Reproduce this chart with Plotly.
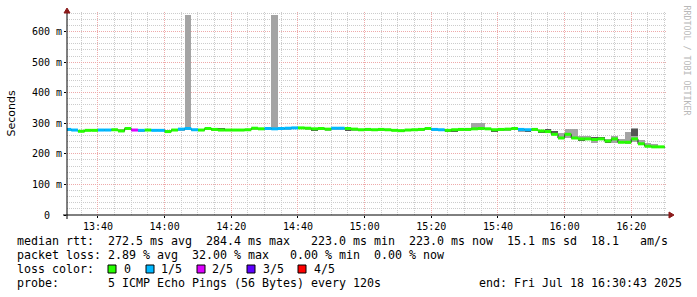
import plotly.graph_objects as go
from datetime import datetime, timedelta

# ---------------- data ----------------
start = datetime(2025, 7, 18, 13, 30, 0)
step_minutes = 2
range_start = "2025-07-18 13:30:43"
range_end = "2025-07-18 16:30:43"

median = [280, 278, 274, 277, 277, 278, 278, 279, 275, 283,
          278, 277, 278, 277, 277, 273, 278, 281, 283, 279,
          278, 283, 280, 278, 278, 278, 278, 279, 284, 282,
          283, 282, 283, 284, 285, 285, 284, 282, 283, 281,
          284, 284, 283, 281, 279, 280, 279, 280, 279, 277,
          276, 278, 279, 280, 283, 280, 279, 277, 279, 280,
          280, 282, 283, 282, 279, 280, 281, 283, 280, 279,
          280, 275, 273, 264, 252, 264, 252, 249, 249, 247,
          249, 242, 249, 238, 238, 249, 233, 225, 223, 223]

loss = [1, 1, 0, 0, 0, 1, 1, 0, 0, 0,
        2, 1, 0, 1, 1, 0, 0, 1, 1, 1,
        0, 0, 0, 0, 0, 0, 0, 0, 0, 0,
        1, 1, 1, 1, 1, 0, 0, 0, 0, 0,
        1, 1, 0, 0, 0, 0, 0, 0, 0, 0,
        0, 0, 0, 0, 0, 1, 1, 0, 0, 0,
        0, 0, 0, 0, 0, 0, 0, 0, 1, 1,
        0, 0, 0, 0, 0, 0, 0, 0, 0, 0,
        0, 0, 0, 0, 0, 0, 0, 0, 0, 0]

smoke_lo = [278, 276, 272, 275, 275, 276, 276, 274, 271, 278,
            276, 272, 275, 276, 275, 271, 276, 276, 278, 277,
            276, 279, 278, 276, 276, 276, 276, 277, 279, 277,
            280, 277, 280, 281, 283, 282, 281, 277, 279, 278,
            281, 279, 278, 278, 276, 277, 276, 274, 276, 275,
            273, 275, 277, 278, 279, 278, 275, 273, 272, 277,
            277, 280, 280, 277, 273, 277, 278, 280, 271, 272,
            277, 269, 270, 261, 249, 252, 249, 243, 245, 237,
            246, 236, 236, 235, 233, 240, 229, 222, 221, 221]

smoke_hi = [282, 281, 278, 279, 280, 279, 280, 281, 280, 285,
            281, 279, 280, 280, 279, 279, 280, 283, 655, 281,
            280, 285, 284, 282, 280, 280, 280, 281, 285, 284,
            285, 655, 285, 286, 287, 287, 286, 284, 285, 283,
            285, 285, 285, 283, 281, 282, 282, 281, 281, 280,
            279, 280, 281, 282, 285, 283, 281, 280, 281, 282,
            283, 300, 302, 284, 281, 282, 283, 285, 282, 281,
            282, 277, 282, 272, 268, 281, 281, 260, 259, 255,
            256, 248, 258, 248, 270, 284, 245, 236, 233, 226]

dark_lo = [None] * 17 + [279, None, None, None, None, 282, 281] + [None] * 13 + \
          [278, None, None, None, None, 277] + [None] * 14 + [274, 273] + \
          [None] * 5 + [274] + [None] * 4 + [273, None, 270, 279, 270] + \
          [None] * 3 + [243, None, 251, 253, 237, None, None, None, 258, 230, None, None, None]
dark_hi = [None] * 17 + [281, None, None, None, None, 284, 283] + [None] * 13 + \
          [280, None, None, None, None, 280] + [None] * 14 + [276, 275] + \
          [None] * 5 + [276] + [None] * 4 + [275, None, 272, 281, 272] + \
          [None] * 3 + [245, None, 253, 255, 239, None, None, None, 280, 232, None, None, None]

loss_colors = {0: "#26ff00", 1: "#00b8ff", 2: "#dd00ff", 3: "#5e00ff", 4: "#ff0000"}
legend_labels = ["0", "1/5", "2/5", "3/5", "4/5"]

stats_line1 = "median rtt:  272.5 ms avg  284.4 ms max   223.0 ms min  223.0 ms now  15.1 ms sd  18.1   am/s"
stats_line2 = "packet loss: 2.89 % avg  32.00 % max   0.00 % min  0.00 % now"
stats_line3 = "loss color:"
stats_line4 = "probe:       5 ICMP Echo Pings (56 Bytes) every 120s"
end_text = "end: Fri Jul 18 16:30:43 2025"
y_ticks = [0, 100, 200, 300, 400, 500, 600]
y_ticktext = ["0\u00a0\u00a0", "100 m", "200 m", "300 m", "400 m", "500 m", "600 m"]

# ---------------- geometry helpers ----------------
W, H = 697, 297
L, R, T, B = 67, 667, 12, 215
MS_PER_PX = 1 / 0.3056
Y_TOP = (B - T) * MS_PER_PX


def px(X):
    return (X - L) / (R - L)


def py(Y):
    return (B - Y) / (B - T)


step = timedelta(minutes=step_minutes)
starts = [start + i * step for i in range(len(median))]
centers = [s + step / 2 for s in starts]
width_ms = step_minutes * 60 * 1000

fig = go.Figure()

# smoke (light)
fig.add_trace(go.Bar(
    x=centers, y=[h - l for l, h in zip(smoke_lo, smoke_hi)], base=smoke_lo,
    width=width_ms, marker=dict(color="#a4a4a4", line=dict(width=0)), hoverinfo="skip"))

# smoke (dark core)
dx = [c for c, v in zip(centers, dark_lo) if v is not None]
dl = [v for v in dark_lo if v is not None]
dh = [v for v in dark_hi if v is not None]
fig.add_trace(go.Bar(
    x=dx, y=[h - l for l, h in zip(dl, dh)], base=dl,
    width=width_ms, marker=dict(color="#555555", line=dict(width=0)), hoverinfo="skip"))

# thin median line
fig.add_trace(go.Scatter(
    x=starts + [starts[-1] + step], y=median + [median[-1]], mode="lines",
    line=dict(color="#202020", width=1, shape="hv"), hoverinfo="skip"))

# coloured median segments, one trace per loss level
for lvl, col in loss_colors.items():
    xs, ys = [], []
    for s, m, l in zip(starts, median, loss):
        if l == lvl:
            xs += [s, s + step, None]
            ys += [m, m, None]
    if xs:
        fig.add_trace(go.Scatter(x=xs, y=ys, mode="lines", line=dict(color=col, width=3),
                                 hoverinfo="skip"))

mono = "DejaVu Sans Mono"
fig.update_layout(
    width=W, height=H,
    margin=dict(l=L, r=W - R, t=T, b=H - B, autoexpand=False),
    paper_bgcolor="white", plot_bgcolor="white",
    barmode="overlay", bargap=0, showlegend=False,
    xaxis=dict(
        type="date", range=[range_start, range_end],
        tick0="2025-07-18 13:40:00", dtick=20 * 60 * 1000, tickformat="%H:%M",
        showgrid=True, gridcolor="#eeaaaa", griddash="1px,1px", gridwidth=1,
        minor=dict(dtick=5 * 60 * 1000, tick0="2025-07-18 13:40:00", showgrid=True,
                   gridcolor="#cccccc", griddash="1px,1px", gridwidth=1),
        showline=False, zeroline=False, ticks="outside", ticklen=2, tickcolor="#000000",
        tickfont=dict(family=mono, size=10, color="#000000"), fixedrange=True,
    ),
    yaxis=dict(
        range=[0, Y_TOP], tickvals=y_ticks, ticktext=y_ticktext,
        showgrid=True, gridcolor="#eeaaaa", griddash="1px,1px", gridwidth=1,
        minor=dict(dtick=20, tick0=0, showgrid=True, gridcolor="#cccccc",
                   griddash="1px,1px", gridwidth=1),
        showline=False, zeroline=False, ticks="outside", ticklen=2, tickcolor="#000000",
        tickfont=dict(family=mono, size=10, color="#000000"), fixedrange=True,
    ),
)

shapes = []
# axes lines
shapes.append(dict(type="line", xref="paper", yref="paper", x0=px(63), x1=px(670), y0=py(215), y1=py(215),
                   line=dict(color="#000000", width=1)))
shapes.append(dict(type="line", xref="paper", yref="paper", x0=px(67), x1=px(67), y0=py(219), y1=py(11),
                   line=dict(color="#000000", width=1)))
# arrows
shapes.append(dict(type="path", xref="paper", yref="paper",
                   path=f"M {px(669)} {py(212)} L {px(674)} {py(215)} L {px(669)} {py(218)} Z",
                   fillcolor="#8b1a1a", line=dict(color="#8b1a1a", width=1)))
shapes.append(dict(type="path", xref="paper", yref="paper",
                   path=f"M {px(64)} {py(13)} L {px(67)} {py(8)} L {px(70)} {py(13)} Z",
                   fillcolor="#8b1a1a", line=dict(color="#8b1a1a", width=1)))
# legend squares
sq_x = [108, 146, 197, 247, 298]
for sx, lvl in zip(sq_x, range(5)):
    shapes.append(dict(type="rect", xref="paper", yref="paper",
                       x0=px(sx), x1=px(sx + 8), y0=py(273), y1=py(265),
                       fillcolor=loss_colors[lvl], line=dict(color="#000000", width=1)))
fig.update_layout(shapes=shapes)

annotations = []
txt_font = dict(family=mono, size=11.63, color="#000000")


def nb(s):
    return s.replace(" ", "\u00a0")


for text, X, Y in [(stats_line1, 16, 241), (stats_line2, 16, 255), (stats_line3, 16, 269),
                   (stats_line4, 16, 283), (end_text, 478, 283)]:
    annotations.append(dict(text=nb(text), xref="paper", yref="paper", x=px(X - 1), y=py(Y),
                            xanchor="left", yanchor="middle", showarrow=False, font=txt_font))
lab_x = [123, 160, 211, 261.5, 312.5]
for lx, lab in zip(lab_x, legend_labels):
    annotations.append(dict(text=lab, xref="paper", yref="paper", x=px(lx - 1), y=py(269),
                            xanchor="left", yanchor="middle", showarrow=False, font=txt_font))
annotations.append(dict(text="Seconds", xref="paper", yref="paper", x=px(11), y=py(113.5),
                        xanchor="center", yanchor="middle", textangle=-90, showarrow=False,
                        font=dict(family="DejaVu Sans", size=11, color="#000000")))
annotations.append(dict(text=nb("RRDTOOL / TOBI OETIKER"), xref="paper", yref="paper", x=px(686.5), y=py(60),
                        xanchor="center", yanchor="middle", textangle=90, showarrow=False,
                        font=dict(family=mono, size=8.3, color="#b8b8b8")))
fig.update_layout(annotations=annotations)

fig.write_html("out.html")
